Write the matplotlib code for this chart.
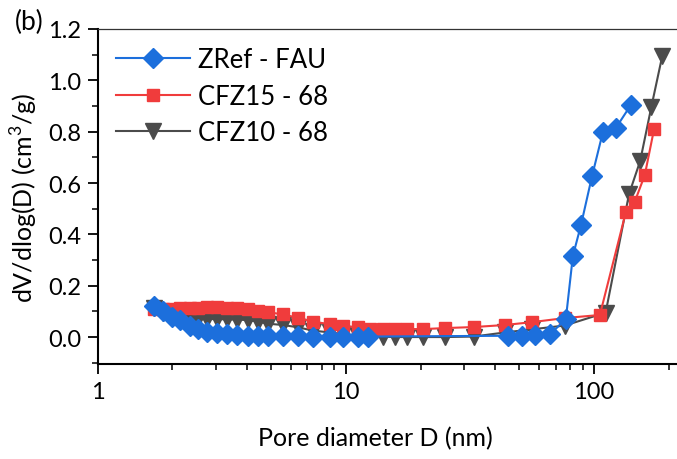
"""Pore size distribution (BJH, dV/dlogD) for the FAU reference and the two CFZ samples."""

import matplotlib

matplotlib.use("Agg")
import matplotlib.pyplot as plt
from matplotlib.ticker import LogLocator, MultipleLocator, NullFormatter, FixedFormatter, FixedLocator

plt.rcParams["font.family"] = ["Lato", "DejaVu Sans"]
plt.rcParams["mathtext.fontset"] = "custom"
plt.rcParams["mathtext.rm"] = "Lato"

# ZRef - FAU
zref_d = [1.69, 1.83, 1.99, 2.15, 2.35, 2.54, 2.76, 3.02, 3.32, 3.64, 4.03, 4.42, 4.86,
          5.58, 6.41, 7.37, 8.63, 9.73, 11.2, 12.3,
          44.9, 51.2, 57.8, 66.4, 77.0, 82.2, 88.6, 98.2, 108.7, 122.6, 141.0]
zref_v = [0.12, 0.10, 0.08, 0.065, 0.045, 0.03, 0.02, 0.014, 0.01, 0.008, 0.006, 0.005, 0.004,
          0.003, 0.003, 0.002, 0.002, 0.002, 0.002, 0.002,
          0.005, 0.006, 0.008, 0.01, 0.07, 0.316, 0.436, 0.627, 0.80, 0.815, 0.905]

# CFZ15 - 68
cfz15_d = [1.69, 1.83, 1.99, 2.15, 2.35, 2.54, 2.76, 3.02, 3.32, 3.64, 4.03, 4.42, 4.86,
           5.58, 6.41, 7.37, 8.63, 9.73, 11.2, 12.5, 14.1, 15.8, 17.6, 20.5, 25.1, 32.8,
           43.8, 56.2, 76.3, 105.6, 134.4, 145.8, 160.2, 174.6]
cfz15_v = [0.11, 0.108, 0.11, 0.112, 0.114, 0.115, 0.116, 0.116, 0.115, 0.113, 0.108, 0.102, 0.097,
           0.088, 0.075, 0.06, 0.05, 0.043, 0.038, 0.033, 0.031, 0.031, 0.031, 0.031, 0.035, 0.039,
           0.047, 0.058, 0.074, 0.086, 0.487, 0.526, 0.631, 0.81]

# CFZ10 - 68
cfz10_d = [1.69, 1.83, 1.99, 2.15, 2.35, 2.54, 2.76, 3.02, 3.32, 3.64, 4.03, 4.42, 4.86,
           5.58, 6.41, 7.37, 8.63, 9.73, 11.2, 12.5, 14.1, 15.8, 17.6, 20.5, 25.1, 32.8,
           43.8, 56.2, 76.3, 111.4, 138.4, 153.5, 170.2, 188.4]
cfz10_v = [0.115, 0.095, 0.083, 0.076, 0.072, 0.07, 0.07, 0.07, 0.069, 0.068, 0.066, 0.06, 0.052,
           0.047, 0.038, 0.025, 0.018, 0.012, 0.006, 0.003, 0.001, 0.0, 0.0, 0.0, 0.0, 0.002,
           0.018, 0.03, 0.045, 0.095, 0.557, 0.686, 0.896, 1.095]

x_ticks = [1, 10, 100]
x_tick_labels = ["1", "10", "100"]

fig = plt.figure(figsize=(6.77, 4.60), dpi=100)
ax = fig.add_axes([0.1443, 0.2065, 0.8557, 0.7283])

ax.plot(zref_d, zref_v, color="#1c6fdc", marker="D", markersize=10, lw=1.5,
        label="ZRef - FAU", zorder=4)
ax.plot(cfz15_d, cfz15_v, color="#f03c3c", marker="s", markersize=9, lw=1.5,
        label="CFZ15 - 68", zorder=3)
ax.plot(cfz10_d, cfz10_v, color="#4b4b4b", marker="v", markersize=11, lw=1.5,
        label="CFZ10 - 68", zorder=2)

ax.set_xscale("log")
ax.set_xlim(1, 216)
ax.set_ylim(-0.105, 1.2)

ax.xaxis.set_major_locator(FixedLocator(x_ticks))
ax.xaxis.set_major_formatter(FixedFormatter(x_tick_labels))
ax.xaxis.set_minor_locator(LogLocator(base=10, subs=range(2, 10), numticks=20))
ax.xaxis.set_minor_formatter(NullFormatter())
ax.yaxis.set_major_locator(MultipleLocator(0.2))
ax.yaxis.set_minor_locator(MultipleLocator(0.1))
ax.yaxis.set_major_formatter(matplotlib.ticker.FormatStrFormatter("%.1f"))

ax.tick_params(which="major", direction="out", length=7, width=1.3, labelsize=17,
               top=False, right=False, pad=5)
ax.tick_params(which="minor", direction="out", length=4, width=1.1, top=False, right=False)

ax.spines["right"].set_visible(False)
ax.spines["left"].set_linewidth(1.5)
ax.spines["bottom"].set_linewidth(1.5)
ax.spines["top"].set_linewidth(0.9)
ax.spines["top"].set_color("#333333")

ax.set_xlabel("Pore diameter D (nm)", fontsize=18)
ax.xaxis.set_label_coords(0.479, -0.185)
ax.set_ylabel("dV/dlog(D) (cm$^3$/g)", fontsize=18, labelpad=6)

ax.legend(loc="upper left", frameon=False, fontsize=18.5, handlelength=2.9,
          handletextpad=0.3, labelspacing=0.45, borderaxespad=0.3,
          bbox_to_anchor=(0.0, 1.0))

fig.text(0.022, 0.952, "(b)", fontsize=19, va="center", ha="left")

fig.savefig("out.png", dpi=100)
plt.close(fig)
